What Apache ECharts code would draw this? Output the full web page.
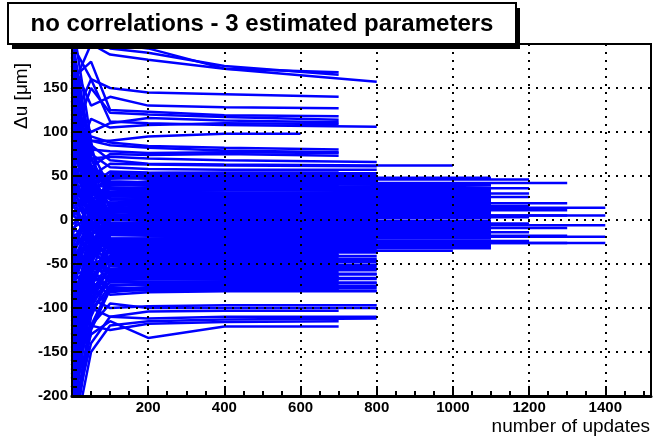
<!DOCTYPE html>
<html>
<head>
<meta charset="utf-8">
<script src="https://cdn.jsdelivr.net/npm/echarts@6/dist/echarts.min.js"></script>
<style>
  html, body { margin: 0; padding: 0; background: #fff; }
  #chart { width: 656px; height: 439px; }
</style>
</head>
<body>
<div id="chart"></div>
<script>
// update checkpoints (x) shared by every track; last point of a track is its own end
var knots = [0, 50, 100, 200, 400, 800, 1200];

// each track: [last update, value at each knot below it ..., value at last update]
var tracksHigh = [
    [700, 150, 200, 188, 182, 172, 168],
    [700, 240, 215, 195, 190, 175, 165],
    [800, 260, 230, 200, 195, 172, 157],
    [700, 110, 160, 150, 145, 143, 140],
    [700, 180, 130, 140, 130, 128, 127],
    [700, 90, 150, 122, 120, 117, 114],
    [700, 130, 100, 110, 116, 113, 111],
    [700, 60, 115, 105, 108, 110, 109],
    [800, 200, 160, 112, 110, 108, 106],
    [600, 70, 90, 90, 95, 98, 98],
    [700, 160, 180, 125, 123, 119, 118],
    [700, 40, 90, 85, 82, 79, 77],
    [700, 120, 80, 78, 76, 77, 76],
    [700, -20, 60, 75, 74, 75, 73],
    [800, 100, 70, 72, 70, 68, 66],
    [800, 30, 50, 64, 63, 62, 61],
    [1000, 90, 85, 68, 64, 63, 62, 62],
    [800, 150, 75, 60, 58, 57, 57],
    [700, 70, 95, 88, 84, 82, 80],
    [800, -50, 40, 55, 54, 53, 53],
    [800, 120, 40, 48, 50, 50, 50],
    [700, -55, 5, 52, 53, 54, 54]
];

var tracksMid = [
    [1200, 80, 60, 48, 47, 46, 46, 46],
    [1300, 20, 45, 44, 43, 42, 42, 42, 42],
    [1100, 130, 30, 50, 49, 48, 48, 48],
    [800, -80, 20, 40, 44, 45, 45],
    [1100, 60, 50, 40, 39, 38, 38, 37],
    [700, 100, 60, 42, 40, 40, 40],
    [1200, 85, 40, 37, 36, 36, 36, 36],
    [1100, -60, 10, 30, 33, 34, 33, 33],
    [1200, 200, 80, 35, 32, 31, 30, 30],
    [1100, 75, 35, 31, 30, 30, 30, 30],
    [1100, 40, 25, 27, 28, 28, 28, 28],
    [800, -120, 0, 30, 34, 35, 35],
    [1200, 55, 30, 27, 26, 26, 26, 26],
    [700, 35, 20, 27, 26, 26, 26],
    [1100, 170, 60, 30, 26, 25, 25, 25],
    [800, 190, 70, 24, 23, 23, 23],
    [1100, 90, 40, 24, 22, 22, 22, 22],
    [1100, -100, -20, 15, 19, 20, 20, 20],
    [1300, -30, 10, 18, 20, 19, 19, 19, 19],
    [1100, 140, 20, 20, 18, 17, 17, 17],
    [1200, 50, 30, 18, 17, 16, 16, 16],
    [1100, -45, -10, 14, 15, 15, 15, 15],
    [1400, -10, 5, 12, 13, 14, 14, 14, 14],
    [800, 110, 50, 15, 13, 13, 13],
    [1100, -150, -30, 8, 11, 12, 12, 12],
    [1300, 20, 15, 12, 11, 11, 11, 11, 11],
    [700, -40, 0, 9, 10, 10, 10],
    [1100, 60, 20, 10, 9, 8, 8, 8],
    [800, -180, -50, 6, 7, 7, 7],
    [1100, 15, 6, 6, 6, 6, 6, 6],
    [1400, -70, -10, 3, 5, 5, 5, 5, 5],
    [1300, 30, 10, 6, 5, 5, 5, 5, 5],
    [1200, 180, 50, 6, 4, 3, 3, 3],
    [1100, -20, -5, 1, 2, 2, 2, 2],
    [800, 70, 20, 2, 0, 0, 0],
    [1100, 45, 20, 0, -1, -1, -1, -1],
    [1100, -200, -60, -5, -3, -2, -2, -2],
    [1200, -35, -10, -4, -4, -4, -4, -4],
    [1100, 100, 20, -3, -5, -5, -5, -5],
    [1400, 40, 10, -4, -5, -6, -6, -6, -6],
    [700, -95, -40, -6, -7, -7, -7],
    [1100, -130, -50, -9, -8, -8, -8, -8],
    [1300, -90, -30, -8, -9, -9, -9, -9, -9],
    [1100, -30, -15, -12, -12, -12, -12, -12],
    [1200, 120, 10, -12, -13, -14, -14, -14],
    [1100, 160, 60, -15, -16, -16, -16, -16],
    [800, 150, 40, -12, -15, -16, -16],
    [1300, -160, -40, -15, -17, -18, -18, -18, -18],
    [1400, 10, -5, -17, -18, -19, -19, -19, -19],
    [1100, -110, -40, -22, -21, -20, -20, -20],
    [700, -10, -20, -21, -22, -22, -22],
    [1100, -75, -25, -24, -24, -24, -24, -24],
    [1200, -60, -30, -25, -24, -24, -24, -24],
    [1300, 50, 0, -24, -25, -26, -26, -26, -26],
    [1400, -220, -70, -28, -27, -26, -26, -26, -26],
    [1100, 30, -10, -26, -27, -28, -28, -28],
    [1100, -190, -70, -30, -29, -29, -29, -29],
    [800, 90, 10, -28, -29, -30, -30],
    [1100, -170, -60, -35, -33, -32, -32, -32],
    [800, 230, 90, -33, -34, -34, -34],
    [1000, 20, -20, -34, -35, -35, -35, -35],
    [800, 55, 30, 51, 52, 51, 51],
    [700, -130, -20, 47, 48, 49, 49],
    [800, 165, 60, 43, 43, 44, 44],
    [1100, -85, 0, 39, 41, 41, 40, 40],
    [700, 25, 30, 36, 37, 38, 38],
    [800, -65, -10, 32, 33, 34, 34],
    [700, 210, 70, 30, 31, 31, 31],
    [800, -25, 10, 28, 28, 27, 27],
    [1100, 125, 45, 23, 24, 24, 24, 24],
    [700, -175, -45, 20, 21, 21, 21],
    [800, 95, 35, 19, 18, 18, 18],
    [1100, -5, 12, 10, 9, 9, 9, 9],
    [700, 145, 40, 4, 4, 4, 4],
    [800, -115, -35, 1, 1, 1, 1],
    [700, 65, 15, -3, -3, -3, -3],
    [800, -235, -80, -10, -10, -10, -10],
    [1100, 80, 25, -11, -11, -11, -11, -11],
    [700, -145, -35, -13, -13, -13, -13],
    [800, 5, -5, -15, -15, -14, -14],
    [700, 185, 45, -21, -21, -21, -21],
    [800, -50, -25, -23, -23, -23, -23],
    [700, 135, 25, -27, -27, -27, -27],
    [800, -205, -75, -31, -31, -31, -31],
    [700, 75, 0, -33, -33, -33, -33],
    [800, -155, -55, -36, -36, -36, -36],
    [700, 115, 10, -38, -38, -39, -39],
    [1100, 150, 55, 36, 35, 35, 35, 35],
    [1100, -40, 15, 32, 32, 31, 31, 31],
    [1100, 105, 35, 27, 27, 26, 26, 26],
    [1100, -165, -40, 17, 18, 18, 18, 18],
    [1100, 35, 18, 13, 13, 13, 13, 13],
    [1100, -105, -25, 4, 4, 3, 3, 3],
    [1100, 175, 50, -4, -4, -3, -3, -3],
    [1100, -55, -15, -6, -6, -7, -7, -7],
    [1100, 95, 20, -14, -14, -14, -14, -14],
    [1100, -215, -80, -17, -17, -17, -17, -17],
    [1100, 55, 5, -22, -22, -21, -21, -21],
    [1100, -125, -45, -26, -26, -26, -26, -26],
    [1100, 135, 30, -30, -30, -30, -30, -30]
];

var tracksLow = [
    [800, -140, -70, -40, -38, -37, -37],
    [700, -80, -50, -42, -40, -40, -40],
    [800, 60, -20, -45, -44, -44, -44],
    [800, -200, -90, -50, -49, -48, -48],
    [700, 10, -30, -48, -50, -50, -50],
    [800, -120, -80, -55, -54, -53, -53],
    [700, -210, -100, -60, -56, -55, -55],
    [800, -40, -50, -58, -57, -57, -57],
    [800, 30, -30, -60, -62, -62, -62],
    [700, -100, -70, -63, -64, -64, -64],
    [800, -160, -90, -70, -66, -66, -66],
    [700, -60, -60, -68, -67, -68, -68],
    [800, -250, -120, -75, -72, -72, -72],
    [800, -30, -60, -80, -76, -75, -75],
    [700, -140, -100, -82, -78, -78, -78],
    [800, -90, -70, -85, -82, -81, -81],
    [800, -70, -55, -41, -41, -41, -41],
    [700, -190, -85, -43, -43, -43, -43],
    [800, 40, -15, -46, -46, -46, -46],
    [700, -120, -65, -47, -47, -47, -47],
    [800, -220, -95, -51, -51, -51, -51],
    [700, -15, -35, -52, -52, -52, -52],
    [800, -170, -85, -56, -56, -56, -56],
    [700, -85, -55, -59, -59, -59, -59],
    [800, -240, -110, -61, -61, -61, -61],
    [700, 20, -25, -65, -65, -65, -65],
    [800, -135, -80, -67, -67, -67, -67],
    [700, -195, -95, -70, -70, -70, -70],
    [800, -45, -45, -71, -71, -71, -71],
    [700, -165, -105, -74, -74, -74, -74],
    [800, -105, -75, -77, -77, -77, -77],
    [700, -255, -125, -79, -79, -79, -79],
    [800, -35, -55, -80, -80, -80, -80],
    [800, -110, -90, -100, -98, -97, -97],
    [800, -180, -120, -95, -100, -100, -100],
    [700, -230, -140, -110, -104, -103, -103],
    [800, -130, -100, -110, -112, -110, -110],
    [800, -260, -150, -120, -115, -113, -112],
    [700, -150, -120, -125, -118, -116, -115],
    [700, -200, -130, -115, -134, -121, -121]
];

var xMax = 1520;
var font = '"Liberation Sans", Arial, Helvetica, sans-serif';

function toPoints(track) {
    var end = track[0];
    var vals = track.slice(1);
    var xs = knots.filter(function (k) { return k < end; }).concat([end]);
    return xs.map(function (x, i) { return [x, vals[i]]; });
}

var allTracks = tracksHigh.concat(tracksMid, tracksLow);
var series = allTracks.map(function (t) {
    return {
        type: 'line',
        data: toPoints(t),
        showSymbol: false,
        symbol: 'none',
        clip: true,
        silent: true,
        lineStyle: { color: '#0000ff', width: 2.5 },
        z: 2
    };
});

var chart = echarts.init(document.getElementById('chart'));
var option = {
    animation: false,
    backgroundColor: '#fff',
    grid: {
        left: 72, right: 5, top: 44, bottom: 43,
        show: true, borderColor: '#000', borderWidth: 2, backgroundColor: '#fff'
    },
    xAxis: [
        {
            type: 'value', min: 0, max: xMax, interval: 200, z: 5,
            axisLine: { onZero: false, lineStyle: { color: '#000', width: 3 } },
            axisTick: { inside: true, length: 10, lineStyle: { color: '#000', width: 2 } },
            axisLabel: {
                color: '#000', fontFamily: font, fontWeight: 'bold', fontSize: 15, margin: 4,
                formatter: function (v) { return (v > 0 && v % 200 === 0) ? String(v) : ''; }
            },
            splitLine: { show: true, lineStyle: { color: '#000', width: 2, type: [2, 6] } }
        },
        {
            type: 'value', position: 'bottom', min: 0, max: xMax, interval: 50, z: 5,
            axisLine: { show: false, onZero: false },
            axisTick: { inside: true, length: 5, lineStyle: { color: '#000', width: 2 } },
            axisLabel: { show: false },
            splitLine: { show: false }
        }
    ],
    yAxis: [
        {
            type: 'value', min: -200, max: 200, interval: 50, z: 5,
            axisLine: { show: true, onZero: false, lineStyle: { color: '#000', width: 2 } },
            axisTick: { show: true, inside: true, length: 10, lineStyle: { color: '#000', width: 2 } },
            axisLabel: {
                color: '#000', fontFamily: font, fontWeight: 'bold', fontSize: 15, margin: 4,
                formatter: function (v) { return v < 200 ? String(v) : ''; }
            },
            splitLine: { show: true, lineStyle: { color: '#000', width: 2, type: [2, 6] } }
        },
        {
            type: 'value', position: 'left', min: -200, max: 200, interval: 10, z: 5,
            axisLine: { show: false, onZero: false },
            axisTick: { show: true, inside: true, length: 5, lineStyle: { color: '#000', width: 2 } },
            axisLabel: { show: false },
            splitLine: { show: false }
        }
    ],
    graphic: [
        { type: 'rect', z: 100, shape: { x: 12, y: 8, width: 508, height: 41 }, style: { fill: '#000' } },
        { type: 'rect', z: 101, shape: { x: 8, y: 3, width: 508, height: 41 }, style: { fill: '#fff', stroke: '#000', lineWidth: 2 } },
        {
            type: 'text', z: 102, x: 262, y: 24,
            style: { text: 'no correlations - 3 estimated parameters', font: 'bold 24px ' + font, fill: '#000', align: 'center', verticalAlign: 'middle' }
        },
        {
            type: 'text', z: 102, x: 22, y: 96, rotation: Math.PI / 2,
            style: { text: 'Δu [μm]', font: '19px ' + font, fill: '#000', align: 'center', verticalAlign: 'middle' }
        },
        {
            type: 'text', z: 102, x: 650, y: 427,
            style: { text: 'number of updates', font: '19px ' + font, fill: '#000', align: 'right', verticalAlign: 'middle' }
        }
    ],
    series: series
};
chart.setOption(option);
</script>
</body>
</html>
